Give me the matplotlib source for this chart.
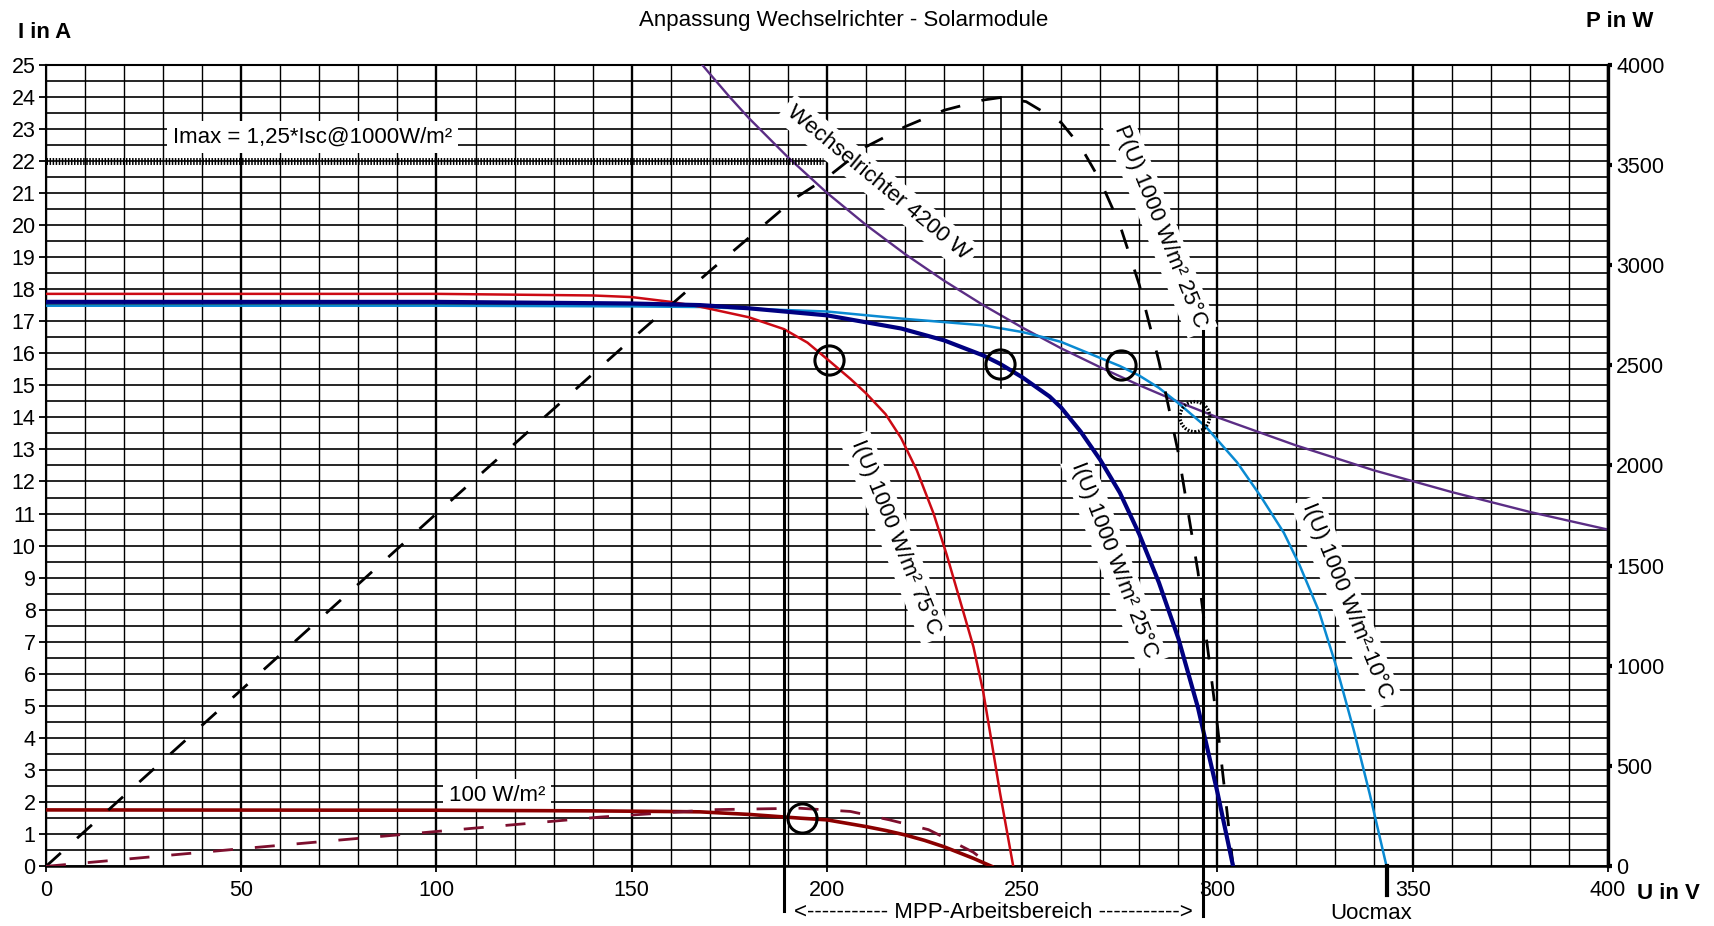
"""I-U-Kennlinien der Solarmodule gegen den Eingangsbereich des Wechselrichters."""

import matplotlib
matplotlib.use("Agg")
import matplotlib.pyplot as plt
import numpy as np
from matplotlib.patches import Ellipse

plt.rcParams["font.family"] = ["Liberation Sans", "DejaVu Sans"]

# I(U) bei 1000 W/m², 75 °C
U_75 = [0, 100, 140, 150, 160, 167.5, 180, 189, 195, 200.4, 206, 210, 215, 219,
        223, 227.3, 230.7, 235, 237.5, 240, 242, 244.3, 246, 247.7]
I_75 = [17.85, 17.85, 17.8, 17.75, 17.6, 17.45, 17.12, 16.75, 16.33, 15.78,
        15.2, 14.75, 14.1, 13.35, 12.35, 11.0, 9.7, 7.9, 6.85, 5.45, 4.0, 2.3,
        1.15, 0.0]

# I(U) bei 1000 W/m², 25 °C
U_25 = [0, 100, 150, 167.5, 180, 200, 219, 230, 240, 244.3, 250, 257, 260,
        265, 270, 275, 280, 285, 290, 295, 300, 304]
I_25 = [17.6, 17.6, 17.55, 17.5, 17.4, 17.18, 16.77, 16.4, 15.93, 15.67,
        15.25, 14.65, 14.3, 13.55, 12.67, 11.65, 10.35, 8.85, 7.1, 4.95, 2.3,
        0.0]

# I(U) bei 1000 W/m², -10 °C
U_M10 = [0, 100, 150, 167.5, 200, 219, 240, 250, 257, 260, 270, 275, 280, 285,
         290, 297, 305, 311, 317, 321, 326, 330.5, 335, 339, 343.3]
I_M10 = [17.48, 17.48, 17.46, 17.44, 17.3, 17.08, 16.87, 16.66, 16.45, 16.35,
         15.85, 15.6, 15.3, 14.92, 14.44, 13.71, 12.6, 11.55, 10.4, 9.4, 7.95,
         6.2, 4.2, 2.25, 0.0]

# I(U) bei 100 W/m²
U_100 = [0, 100, 140, 160, 167.5, 180, 193.5, 200, 210, 215, 220, 225, 230,
         237.5, 242.2]
I_100 = [1.76, 1.75, 1.73, 1.71, 1.70, 1.62, 1.50, 1.45, 1.24, 1.12, 0.98,
         0.81, 0.61, 0.25, 0.0]

# P(U) bei 1000 W/m², 25 °C (rechte Achse)
U_P1000 = [0, 50, 100, 150, 170, 192, 200, 210, 220, 230, 240, 244.3, 251, 260,
           265, 270, 275, 280, 285, 290, 295, 300, 304]
P_1000 = [0, 880, 1760, 2630, 2970, 3335, 3436, 3590, 3690, 3772, 3823, 3835,
          3815, 3710, 3590, 3420, 3200, 2900, 2520, 2060, 1470, 700, 0]

# P(U) bei 100 W/m² (rechte Achse)
U_P100 = [0, 50, 100, 142, 171, 193, 206, 216, 226, 232, 237.5, 242.2]
P_100 = [0, 88, 174, 246, 283, 290, 274, 232, 183, 125, 70, 0]

# Leistungsgrenze Wechselrichter 4200 W
U_WR = [168, 170, 175, 180, 190, 200, 210, 220, 230, 240, 250, 260, 270, 280,
        290, 300, 320, 340, 360, 380, 400]
I_WR = [25.0, 24.71, 24.0, 23.33, 22.11, 21.0, 20.0, 19.09, 18.26, 17.5, 16.8,
        16.15, 15.56, 15.0, 14.48, 14.0, 13.13, 12.35, 11.67, 11.05, 10.5]

# Maximaler Eingangsstrom
I_MAX = 22.0
U_IMAX_END = 199

# MPP-Punkte (U, I)
MPP_U = [200.4, 244.3, 275.2, 193.5]
MPP_I = [15.78, 15.67, 15.64, 1.50]
SCHNITT_U, SCHNITT_I = 294.2, 14.02

# MPP-Arbeitsbereich und Uocmax
U_MPP_MIN, U_MPP_MAX = 189, 296.2
I_MPP_LINE_TOP = 16.7
U_PMAX, P_MAX_LINE, I_PMAX_LINE_END = 244.5, 3840, 14.9
U_OC_MAX = 343.3

X_TICKS = list(range(0, 401, 50))
Y_TICKS = list(range(0, 26))
P_TICKS = list(range(0, 4001, 500))

FS = 15.5

fig = plt.figure(figsize=(17.15, 9.26), dpi=100)
ax = fig.add_axes([0.0268, 0.0644, 0.9108, 0.8659])
ax2 = ax.twinx()

ax.set_xlim(0, 400)
ax.set_ylim(0, 25)
ax2.set_ylim(0, 4000)

ax.set_xticks(X_TICKS)
ax.set_xticks(np.arange(0, 401, 10), minor=True)
ax.set_yticks(Y_TICKS)
ax.set_yticks(np.arange(0, 25.01, 0.5), minor=True)
ax2.set_yticks(P_TICKS)

ax.set_axisbelow(True)
ax.grid(which="minor", axis="x", color="black", lw=1.0)
ax.grid(which="major", axis="x", color="black", lw=1.7)
ax.grid(which="both", axis="y", color="black", lw=1.2)

ax.tick_params(which="minor", length=0)
ax.tick_params(axis="y", which="major", length=5, width=1.3, pad=2.5,
               labelsize=FS, direction="out")
ax.tick_params(axis="x", which="major", length=4, width=1.3, pad=6,
               labelsize=FS, direction="out")
ax2.tick_params(axis="y", length=3, width=3, pad=3, labelsize=FS,
                direction="out")

for side in ["left", "top"]:
    ax.spines[side].set_linewidth(1.5)
ax.spines["bottom"].set_linewidth(1.8)
ax.spines["right"].set_visible(False)
for side in ["left", "top", "bottom"]:
    ax2.spines[side].set_visible(False)
ax2.spines["right"].set_linewidth(2.4)

# Kennlinien
ax.plot(U_WR, I_WR, color="#5b2d85", lw=1.7, zorder=4)
ax.plot(U_M10, I_M10, color="#0a8ad2", lw=1.8, zorder=5)
ax.plot(U_75, I_75, color="#cc0a14", lw=1.8, zorder=5)
ax.plot(U_25, I_25, color="#000080", lw=3.0, zorder=6)
ax.plot(U_100, I_100, color="#8b0000", lw=2.6, zorder=5)

ax.plot(U_P1000, P_1000, transform=ax2.transData, color="black", lw=2.0,
        dashes=(7.2, 7.9), zorder=5)
ax.plot(U_P100, P_100, transform=ax2.transData, color="#7d0f2e", lw=2.0,
        dashes=(7.2, 7.9), zorder=5)

# Imax-Linie
ax.plot([0, U_IMAX_END], [I_MAX, I_MAX], color="black", lw=5, dashes=(0.22, 0.22),
        zorder=4)

# senkrechte Hilfslinien
ax.plot([U_MPP_MIN, U_MPP_MIN], [I_MPP_LINE_TOP, -1.4], color="black", lw=2.2,
        clip_on=False, zorder=6)
ax.plot([U_MPP_MAX, U_MPP_MAX], [I_MPP_LINE_TOP, -1.55], color="black", lw=2.2,
        clip_on=False, zorder=6)
ax.plot([U_PMAX, U_PMAX], [P_MAX_LINE / 160, I_PMAX_LINE_END], color="black",
        lw=1.2, zorder=6)
ax.plot([U_OC_MAX, U_OC_MAX], [0, -0.9], color="black", lw=3, clip_on=False,
        zorder=6)

# MPP-Kreise
ax.plot(MPP_U, MPP_I, ls="none", marker="o", ms=21, mfc="none", mec="black",
        mew=2.2, zorder=8)
ax.add_patch(Ellipse((SCHNITT_U, SCHNITT_I), 7.6, 0.94, fill=False,
                     ec="black", lw=2.4, ls=(0, (0.5, 0.5)), zorder=8))

# Beschriftungen
box = dict(boxstyle="square,pad=0.25", fc="white", ec="none")
ax.text(32.5, 22.75, "Imax = 1,25*Isc@1000W/m²", fontsize=16, ha="left",
        va="center", bbox=box, zorder=3)
ax.text(115.5, 2.22, "100 W/m²", fontsize=16, ha="center", va="center",
        bbox=box, zorder=3)

curve_labels = [
    ("Wechselrichter 4200 W", 213.1, 21.3, -39.5),
    ("P(U) 1000 W/m² 25°C", 285.3, 19.94, -68),
    ("I(U) 1000 W/m² 75°C", 217.6, 10.25, -68),
    ("I(U) 1000 W/m² 25°C", 273.6, 9.53, -69),
    ("I(U) 1000 W/m²-10°C", 333.1, 8.26, -68),
]
for txt, x, y, rot in curve_labels:
    ax.text(x, y, txt, fontsize=16, rotation=rot, rotation_mode="anchor",
            ha="center", va="center", bbox=box, zorder=3)

ax.text((U_MPP_MIN + U_MPP_MAX) / 2, -1.43,
        "<----------- MPP-Arbeitsbereich ----------->", fontsize=16,
        ha="center", va="center", clip_on=False)
ax.text(U_OC_MAX - 4, -1.46, "Uocmax", fontsize=16, ha="center", va="center",
        clip_on=False)

fig.text(0.4921, 0.978, "Anpassung Wechselrichter - Solarmodule", fontsize=16,
         ha="center", va="center")
fig.text(0.026, 0.9654, "I in A", fontsize=16, fontweight="bold", ha="center",
         va="center")
fig.text(0.9446, 0.9773, "P in W", fontsize=16, fontweight="bold", ha="center",
         va="center")
fig.text(0.9726, 0.0351, "U in V", fontsize=16, fontweight="bold", ha="center",
         va="center")

fig.savefig("out.png", dpi=100)
